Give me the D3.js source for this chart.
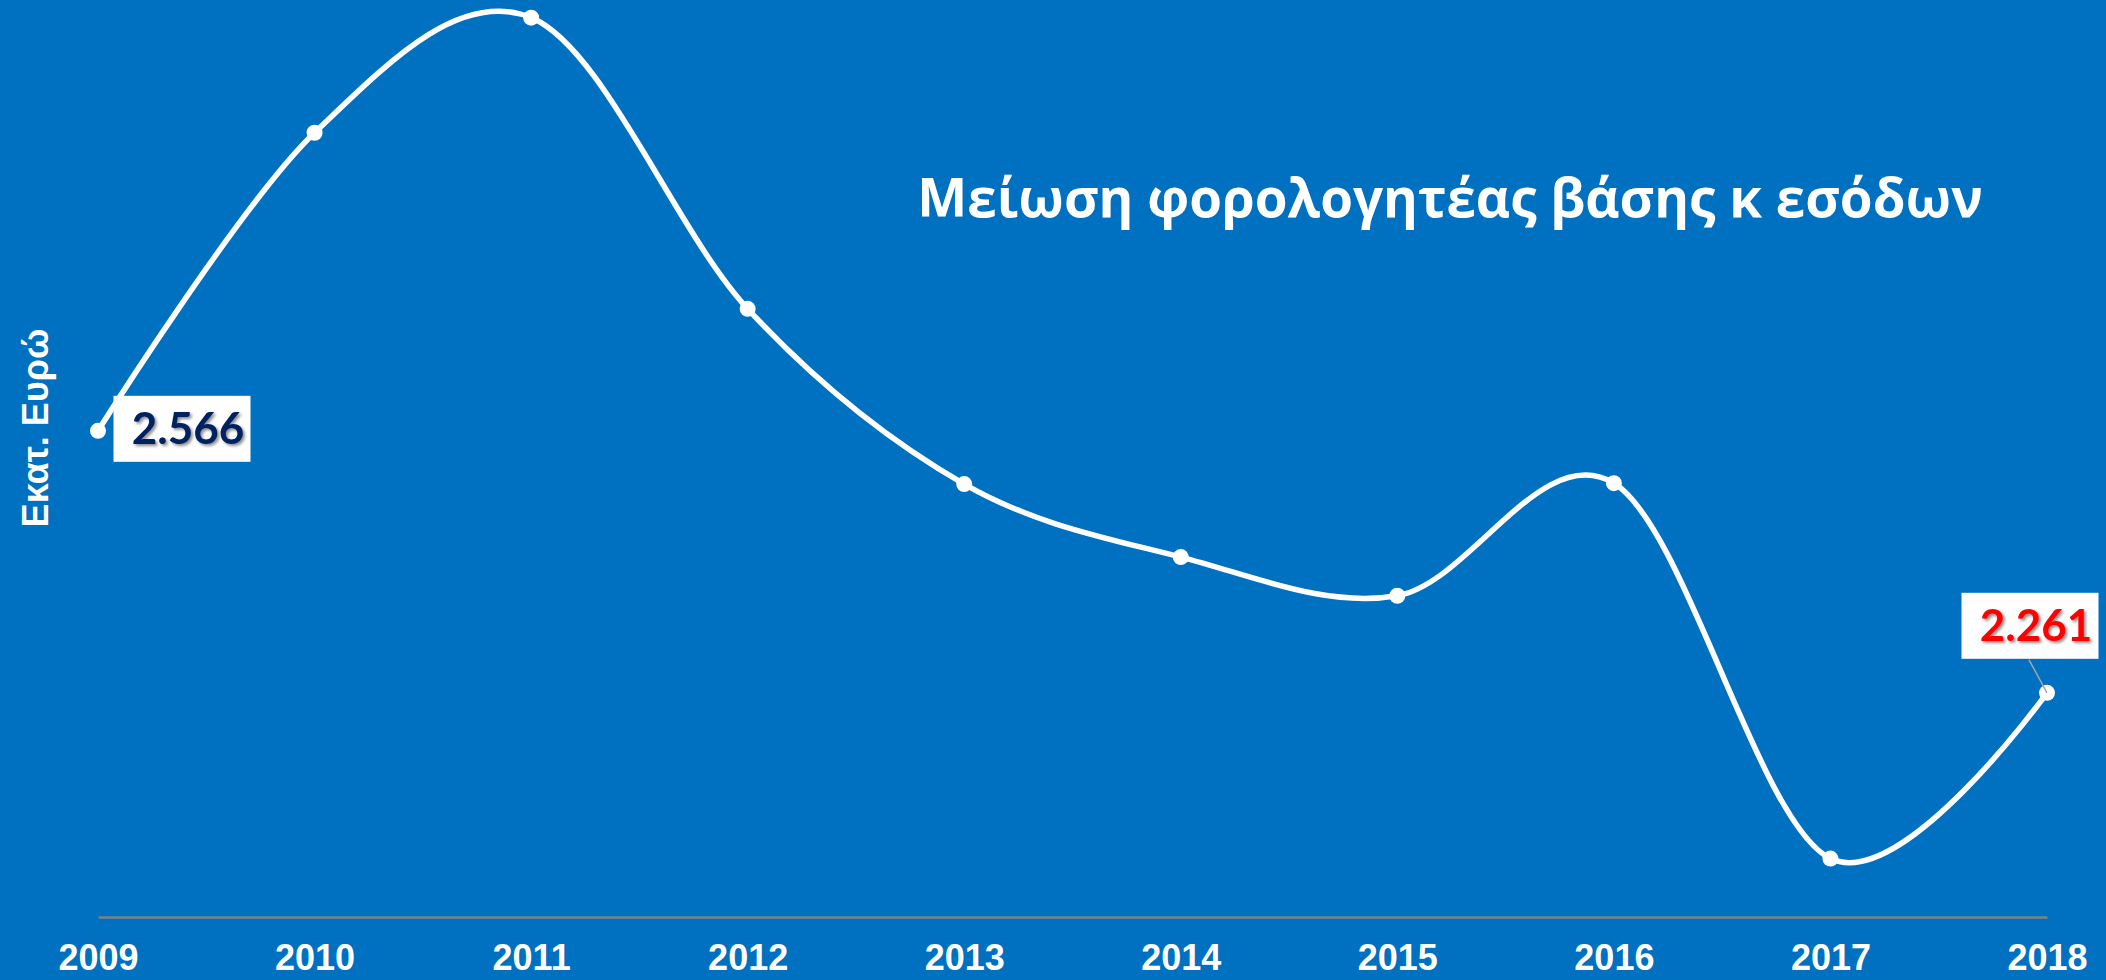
<!DOCTYPE html>
<html>
<head>
<meta charset="utf-8">
<script src="https://cdn.jsdelivr.net/npm/d3@7"></script>
<style>
  html, body { margin: 0; padding: 0; background: #0070C0; }
  svg { display: block; }
</style>
</head>
<body>
<div id="chart-container"></div>
<script>
// data (million euro)
const years = ["2009", "2010", "2011", "2012", "2013", "2014", "2015", "2016", "2017", "2018"];
const values = [2566, 2913, 3047, 2708, 2504, 2419, 2374, 2505, 2068, 2261];
const firstLabel = "2.566";
const lastLabel = "2.261";
const chartTitle = "Μείωση φορολογητέας βάσης κ εσόδων";
const yTitle = "Εκατ. Ευρώ";

const width = 2106, height = 980;

const svg = d3.select("#chart-container")
    .append("svg")
    .attr("width", width)
    .attr("height", height);

svg.append("rect")
    .attr("width", width)
    .attr("height", height)
    .attr("fill", "#0070C0");

const defs = svg.append("defs");
defs.append("filter")
    .attr("id", "shadow")
    .attr("x", "-20%").attr("y", "-20%")
    .attr("width", "140%").attr("height", "140%")
    .append("feDropShadow")
    .attr("dx", 2).attr("dy", 2)
    .attr("stdDeviation", 1.5)
    .attr("flood-color", "#000")
    .attr("flood-opacity", 0.45);

const x = d3.scalePoint().domain(years).range([98, 2047]);
const y = d3.scaleLinear().domain([2000, 3000]).range([917, 58]);

// axis along the bottom
const xAxis = svg.append("g")
    .attr("transform", `translate(0,${y(2000)})`)
    .call(d3.axisBottom(x).tickSize(0).tickPadding(40));
xAxis.select(".domain")
    .attr("stroke", "#808080")
    .attr("stroke-width", 2.5);
xAxis.selectAll("text")
    .attr("fill", "#fff")
    .attr("font-family", "'Liberation Sans', Arial, sans-serif")
    .attr("font-weight", "bold")
    .attr("font-size", 36)
    .attr("dy", "0.35em");

// y title
svg.append("text")
    .attr("transform", `translate(48,428) rotate(-90)`)
    .attr("text-anchor", "middle")
    .attr("fill", "#fff")
    .attr("font-family", "'Liberation Sans', Arial, sans-serif")
    .attr("font-weight", "bold")
    .attr("font-size", 36)
    .text(yTitle);

// title
svg.append("text")
    .attr("x", 1450)
    .attr("y", 217)
    .attr("text-anchor", "middle")
    .attr("fill", "#fff")
    .attr("font-family", "'Open Sans', sans-serif")
    .attr("font-weight", "bold")
    .attr("font-size", 53)
    .text(chartTitle);

const line = d3.line()
    .x((d, i) => x(years[i]))
    .y(d => y(d))
    .curve(d3.curveCardinal.tension(0));

svg.append("path")
    .datum(values)
    .attr("d", line)
    .attr("fill", "none")
    .attr("stroke", "#fff")
    .attr("stroke-width", 5.5);

svg.selectAll(".dot")
    .data(values)
    .enter()
    .append("circle")
    .attr("class", "dot")
    .attr("cx", (d, i) => x(years[i]))
    .attr("cy", d => y(d))
    .attr("r", 8)
    .attr("fill", "#fff");

// leader line for last label
const lastX = x(years[years.length - 1]), lastY = y(values[values.length - 1]);
svg.append("line")
    .attr("x1", lastX - 18).attr("y1", lastY - 33)
    .attr("x2", lastX).attr("y2", lastY)
    .attr("stroke", "#a6a6a6")
    .attr("stroke-width", 1.5);

// data labels
const labels = [
    {text: firstLabel, cx: x(years[0]) + 84, cy: y(values[0]) - 2, color: "#002060"},
    {text: lastLabel, cx: lastX - 17, cy: lastY - 67, color: "#FF0000"}
];

const lab = svg.selectAll(".lab")
    .data(labels)
    .enter()
    .append("g")
    .attr("class", "lab")
    .attr("transform", d => `translate(${d.cx},${d.cy})`);

lab.append("rect")
    .attr("x", -68.5).attr("y", -33)
    .attr("width", 137).attr("height", 66)
    .attr("fill", "#fff");

lab.append("text")
    .attr("x", 6)
    .attr("y", 15)
    .attr("text-anchor", "middle")
    .attr("fill", d => d.color)
    .attr("font-family", "Lato, 'Open Sans', sans-serif")
    .attr("font-weight", "bold")
    .attr("font-size", 44)
    .attr("filter", "url(#shadow)")
    .text(d => d.text);
</script>
</body>
</html>
